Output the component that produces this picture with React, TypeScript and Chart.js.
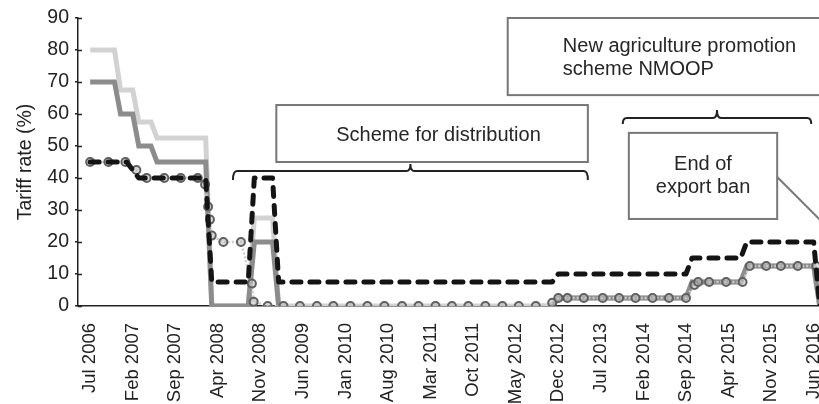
import { useEffect, useRef } from 'react';
import { Chart, registerables } from 'chart.js';

Chart.register(...registerables);

// month index: 0 = Jul 2006
const tickMonths = [0, 7, 14, 21, 28, 35, 42, 49, 56, 63, 70, 77, 84, 91, 98, 105, 112, 119];
const tickLabels = [
  'Jul 2006', 'Feb 2007', 'Sep 2007', 'Apr 2008', 'Nov 2008', 'Jun 2009', 'Jan 2010', 'Aug 2010',
  'Mar 2011', 'Oct 2011', 'May 2012', 'Dec 2012', 'Jul 2013', 'Feb 2014', 'Sep 2014', 'Apr 2015',
  'Nov 2015', 'Jun 2016',
];

const lightMonths = [0, 4, 5, 7, 8, 10, 11, 19, 20, 26, 27, 30, 31, 76, 77, 98, 99, 107, 108, 119, 120];
const lightValues = [80, 80, 67.5, 67.5, 57.5, 57.5, 52.5, 52.5, 0, 0, 27.5, 27.5, 0, 0, 2.5, 2.5, 7.5, 7.5, 12.5, 12.5, 0];

const mediumMonths = [0, 4, 5, 7, 8, 10, 11, 19, 20, 26, 27, 30, 31, 50, 76, 77, 98, 99, 107, 108, 119, 120];
const mediumValues = [70, 70, 60, 60, 50, 50, 45, 45, 0, 0, 20, 20, 0, null, 0, 2.5, 2.5, 7.5, 7.5, 12.5, 12.5, 0];

const blackMonths = [0, 6, 8, 19, 20, 26, 27, 30, 31, 76, 77, 98, 99, 107, 108, 119, 120];
const blackValues = [45, 45, 40, 40, 7.5, 7.5, 40, 40, 7.5, 7.5, 10, 10, 15, 15, 20, 20, 0];

const markerMonths = [
  0, 3, 5.8, 7.6, 9.3, 12.2, 14.9, 17.7, 18.9, 19.4, 19.7, 20, 21.9, 24.8, 26.6, 26.9,
  29.2, 31.8, 34.5, 37.3, 40, 42.8, 45.6, 48.4, 51.3, 54, 56.8, 59.5, 62.2, 65, 67.8, 70.5, 73.3,
  76, 77, 78.5, 81.2, 84.3, 87, 89.7, 92.5, 95.2, 98, 99.4, 100, 101.8, 104.6, 107.3, 108.5,
  111.2, 113.6, 116.4, 119.4,
];
const markerValues = [
  45, 45, 45, 42.5, 40, 40, 40, 40, 38, 31, 27, 22, 20, 20, 7, 1.3,
  0, 0, 0, 0, 0, 0, 0, 0, 0, 0, 0, 0, 0, 0, 0, 0, 0,
  1, 2.5, 2.5, 2.5, 2.5, 2.5, 2.5, 2.5, 2.5, 2.5, 6.6, 7.5, 7.5, 7.5, 7.5, 12.5,
  12.5, 12.5, 12.5, 12.5,
];

const toPoints = (xs: number[], ys: (number | null)[]) => xs.map((x, i) => ({ x, y: ys[i] }));

// annotation layout in axis units (months, %)
const boxes = [
  { x1: 30.62, x2: 81.86, y1: 62.8, y2: 45.0 },
  { x1: 68.68, x2: 124.9, y1: 90, y2: 65.9 },
  { x1: 88.6, x2: 113.0, y1: 54.1, y2: 27.2 },
];
const notes = [
  { text: 'Scheme for distribution', x: 57.3, y: 51.66, align: 'center' },
  { text: 'New agriculture promotion', x: 77.74, y: 79.47, align: 'left' },
  { text: 'scheme NMOOP', x: 77.74, y: 72.19, align: 'left' },
  { text: 'End of', x: 100.8, y: 42.5, align: 'center' },
  { text: 'export ban', x: 100.8, y: 35.2, align: 'center' },
];
const brackets = [
  { x1: 23.49, x2: 81.86, y: 42.2, hook: 9, notch: 7 },
  { x1: 87.6, x2: 118.6, y: 58.75, hook: 6, notch: 8 },
];
const connector = { x1: 113.0, y1: 40.3, x2: 121.9, y2: 23.4 };

const FONT = '"Liberation Sans", Arial, sans-serif';

const annotationPlugin = {
  id: 'annotations',
  afterDraw(chart: any) {
    const { ctx, chartArea } = chart;
    const xs = chart.scales.x;
    const ys = chart.scales.y;
    const px = (v: number) => xs.getPixelForValue(v);
    const py = (v: number) => ys.getPixelForValue(v);
    ctx.save();
    // inner tick marks on y axis
    ctx.strokeStyle = '#222';
    ctx.lineWidth = 1.5;
    ys.ticks.forEach((t: any) => {
      const y = Math.round(py(t.value)) + 0.5;
      ctx.beginPath();
      ctx.moveTo(chartArea.left, y);
      ctx.lineTo(chartArea.left + 4, y);
      ctx.stroke();
    });
    // boxes
    ctx.strokeStyle = '#777';
    ctx.lineWidth = 2;
    boxes.forEach((b) => {
      ctx.strokeRect(px(b.x1), py(b.y1), px(b.x2) - px(b.x1), py(b.y2) - py(b.y1));
    });
    // connector
    ctx.beginPath();
    ctx.moveTo(px(connector.x1), py(connector.y1));
    ctx.lineTo(px(connector.x2), py(connector.y2));
    ctx.stroke();
    // brackets
    ctx.strokeStyle = '#222';
    ctx.lineWidth = 2;
    brackets.forEach((b) => {
      const x1 = px(b.x1);
      const x2 = px(b.x2);
      const y = py(b.y);
      const xc = (x1 + x2) / 2;
      const r = 4;
      ctx.beginPath();
      ctx.moveTo(x1, y + b.hook);
      ctx.quadraticCurveTo(x1, y, x1 + r, y);
      ctx.lineTo(xc - r, y);
      ctx.quadraticCurveTo(xc, y, xc, y - b.notch);
      ctx.quadraticCurveTo(xc, y, xc + r, y);
      ctx.lineTo(x2 - r, y);
      ctx.quadraticCurveTo(x2, y, x2, y + b.hook);
      ctx.stroke();
    });
    // texts
    ctx.fillStyle = '#262626';
    ctx.font = '20px ' + FONT;
    ctx.textBaseline = 'alphabetic';
    notes.forEach((n) => {
      ctx.textAlign = n.align as CanvasTextAlign;
      ctx.fillText(n.text, px(n.x), py(n.y));
    });
    ctx.restore();
  },
};

export default function App() {
  const ref = useRef<HTMLCanvasElement>(null);
  useEffect(() => {
    const canvas = ref.current!;
    const chart = new Chart(canvas, {
      type: 'line',
      data: {
        datasets: [
          {
            label: 'black',
            data: toPoints(blackMonths, blackValues),
            borderColor: '#141414',
            borderWidth: 5,
            borderDash: [9, 9],
            borderCapStyle: 'round',
            borderJoinStyle: 'round',
            pointRadius: 0,
            tension: 0,
          },
          {
            label: 'markers',
            data: toPoints(markerMonths, markerValues),
            borderColor: '#cdcdcd',
            borderWidth: 2.5,
            borderDash: [2, 2],
            pointRadius: 4,
            pointBorderWidth: 2,
            pointBorderColor: '#5f5f5f',
            pointBackgroundColor: 'rgba(190,190,190,0.55)',
            tension: 0,
          },
          {
            label: 'medium',
            data: toPoints(mediumMonths, mediumValues),
            borderColor: '#8c8c8c',
            borderWidth: 5,
            pointRadius: 0,
            spanGaps: false,
            tension: 0,
          },
          {
            label: 'light',
            data: toPoints(lightMonths, lightValues),
            borderColor: '#d2d2d2',
            borderWidth: 5,
            pointRadius: 0,
            tension: 0,
          },
        ],
      },
      options: {
        animation: false,
        responsive: false,
        events: [],
        layout: { padding: { top: 18, left: 0, right: 0, bottom: 0 } },
        plugins: { legend: { display: false }, tooltip: { enabled: false } },
        scales: {
          x: {
            type: 'linear',
            min: -2,
            max: 120.7,
            afterBuildTicks: (s: any) => {
              s.ticks = tickMonths.map((v) => ({ value: v }));
            },
            afterFit: (s: any) => {
              s.height = 98;
              s.paddingLeft = 0;
              s.paddingRight = 0;
            },
            grid: { display: false, drawTicks: false },
            border: { display: true, color: '#222', width: 1.5 },
            ticks: {
              autoSkip: false,
              maxRotation: 90,
              minRotation: 90,
              padding: 17,
              color: '#222',
              font: { family: FONT, size: 18.5 },
              callback: (v: any) => {
                const i = tickMonths.indexOf(Number(v));
                return i >= 0 ? tickLabels[i] : '';
              },
            },
          },
          y: {
            min: 0,
            max: 90,
            afterFit: (s: any) => {
              s.width = 78;
            },
            grid: { display: true, drawOnChartArea: false, drawTicks: true, tickLength: 3, color: '#222', lineWidth: 1.5 },
            border: { display: true, color: '#222', width: 1.5 },
            ticks: {
              stepSize: 10,
              padding: 6,
              color: '#222',
              font: { family: FONT, size: 19.5 },
            },
            title: {
              display: true,
              text: 'Tariff rate (%)',
              color: '#222',
              font: { family: FONT, size: 19.5 },
              padding: { top: 14, bottom: 0 },
            },
          },
        },
      },
      plugins: [annotationPlugin],
    } as any);
    return () => chart.destroy();
  }, []);
  return (
    <div
      style={{
        position: 'absolute',
        left: 0,
        top: 0,
        width: 819,
        height: 404,
        overflow: 'hidden',
        background: '#fff',
      }}
    >
      <canvas ref={ref} width={830} height={404} style={{ display: 'block', width: 830, height: 404 }} />
    </div>
  );
}
